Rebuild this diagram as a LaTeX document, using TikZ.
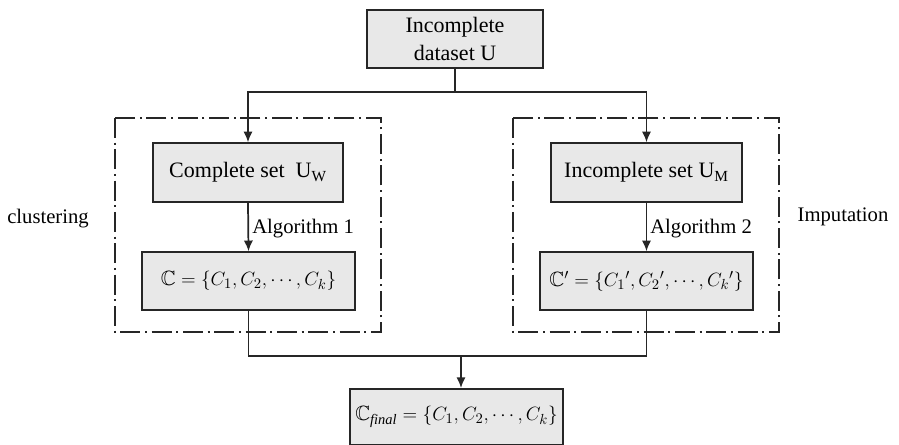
\documentclass[tikz,border=0pt]{standalone}
\usepackage{amssymb}
\usepackage{fontspec}
\setmainfont{Liberation Serif}
\usetikzlibrary{arrows.meta}
\begin{document}
\begin{tikzpicture}[x=0.75pt,y=-0.75pt,
  box/.style={draw=black!85,line width=1.2pt,fill=black!9,inner sep=0pt,align=center,
    font=\fontsize{16.5}{21}\selectfont},
  fbox/.style={box,font=\fontsize{15.5}{19}\selectfont},
  conn/.style={draw=black!85,line width=1.3pt},
  arr/.style={conn,-{Latex[length=8pt,width=7pt]}},
  group/.style={draw=black!85,line width=1.2pt,dash pattern=on 15pt off 3.5pt on 1.5pt off 3.5pt},
  lbl/.style={inner sep=0pt,font=\fontsize{15.5}{19}\selectfont}]
\useasboundingbox (0,0) rectangle (899,445);
% groups
\draw[group] (115,118) rectangle (381,332);
\draw[group] (513,118) rectangle (779,332);
% nodes
\node[box,minimum width=132pt,minimum height=43.5pt] (top) at (455,39) {Incomplete\\dataset U};
\node[box,minimum width=142.5pt,minimum height=44.25pt] (cs) at (248,172.5) {Complete set\ \ U\textsubscript{W}};
\node[box,minimum width=143.25pt,minimum height=44.25pt] (is) at (646.5,172.5) {Incomplete set U\textsubscript{M}};
\node[fbox,minimum width=159.75pt,minimum height=43.5pt] (cl) at (248.5,281) {$\mathbb{C}=\{C_1,C_2,\cdots,C_k\}$};
\node[fbox,minimum width=159.75pt,minimum height=43.5pt] (cr) at (646.5,281) {$\mathbb{C}'=\{C_1{}',C_2{}',\cdots,C_k{}'\}$};
\node[fbox,minimum width=159.75pt,minimum height=42pt,anchor=north] (fin) at (456.5,388) {$\mathbb{C}_{\mathit{final}}=\{C_1,C_2,\cdots,C_k\}$};
% labels
\node[lbl] (clu) at (48,219) {clustering};
\node[lbl] (imp) at (843,217) {Imputation};
\node[lbl,anchor=west] (a1) at (252,229) {Algorithm 1};
\node[lbl,anchor=west] (a2) at (650,229) {Algorithm 2};
% connectors
\coordinate (s) at (455,92);
\coordinate (j) at (461,356);
\draw[conn] (top.south -| s) -- (s);
\draw[arr] (s) -| (cs.north);
\draw[arr] (s) -| (is.north);
\draw[arr] (cs.south) -- (cl.north);
\draw[arr] (is.south) -- (cr.north);
\draw[conn] (cl.south) |- (j);
\draw[conn] (cr.south) |- (j);
\draw[arr] (j) -- (fin.north -| j);
\end{tikzpicture}
\end{document}
